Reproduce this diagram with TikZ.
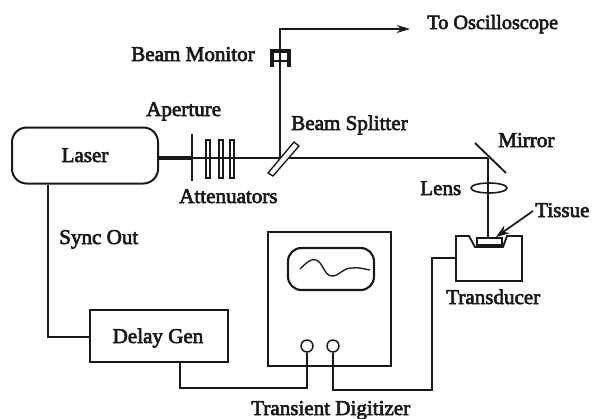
\documentclass[tikz,border=0pt]{standalone}
\usepackage{fontspec}
\setmainfont{Liberation Serif}[FakeBold=3]
\usetikzlibrary{arrows.meta}
\colorlet{ink}{black!90}
\tikzset{
 lbl/.style={font=\fontsize{15.8}{18}\selectfont, text=ink, inner sep=0pt, anchor=base west},
 boxl/.style={draw=ink, line width=1.5pt},
 wire/.style={draw=ink, line width=1.15pt},
}
\begin{document}
\begin{tikzpicture}[x=0.75pt,y=-0.75pt]
\useasboundingbox (0,0) rectangle (593,418);
% beam
\coordinate (laserout) at (159,158);
\coordinate (ap) at (192,158);
\coordinate (att) at (233,158);
\coordinate (bs) at (280,158);
\coordinate (mir) at (488,158);
\draw[ink,line width=3.6pt] (laserout)--(ap);
\draw[ink,line width=2.2pt] (ap)--(att);
\draw[ink,line width=1.6pt] (att)--(bs);
\draw[wire] (bs)--(mir);
\draw[wire] (mir)--(488,237);
% laser
\node[boxl,rounded corners=11pt,minimum width=109.5pt,minimum height=42pt,inner sep=0pt,fill=white] (laser) at (85,155.5) {};
\node[lbl,anchor=base] at (85,162) {Laser};
% aperture
\draw[ink,line width=1.9pt] (192,134)--(192,181);
% attenuators
\foreach \x in {206,219,230}{\draw[ink,line width=1pt,fill=white] (\x,140) rectangle (\x+4,178);}
\draw[ink,line width=2.2pt] (206,158)--(234,158);
% splitter
\draw[ink,line width=1pt,fill=white] (268,173)--(273,176)--(299,146)--(294,142)--cycle;
% monitor
\coordinate (scope) at (410,29);
\draw[wire,-{Stealth[length=10pt,width=6pt]}] (bs)--(280,29)--(scope);
\draw[ink,line width=3pt] (272,67)--(272,51)--(289,51)--(289,67);
\draw[ink,line width=1pt] (272,61)--(289,61);
% mirror, lens
\draw[ink,line width=1.4pt] (475,143)--(506,173);
\draw[ink,line width=1.2pt] (489,188) ellipse [x radius=18,y radius=5];
% transducer
\draw[ink,line width=1.4pt] (456,236)--(469,236)--(475,247)--(503,247)--(507,236)--(522,236)--(522,281)--(456,281)--cycle;
\draw[ink,line width=1pt] (477,238) rectangle (502,245);
\draw[ink,line width=2.2pt] (476,247)--(503,247);
\draw[ink,line width=1.3pt,-{Stealth[length=10pt,width=7pt]}] (533,211)--(496,237);
% delay
\node[boxl,minimum width=103.5pt,minimum height=38.5pt,inner sep=0pt] (delay) at (158.5,336) {};
\node[lbl,anchor=base] at (158,343) {Delay Gen};
% digitizer
\draw[ink,line width=1.9pt] (268,232) rectangle (391,366);
\draw[ink,line width=1.6pt,rounded corners=10pt] (288,248) rectangle (374,290);
\draw[ink,line width=1pt] (300,269) .. controls (307,262) and (312,258) .. (316,260) .. controls (323,262) and (324,276) .. (332,276) .. controls (340,276) and (342,268) .. (352,268) .. controls (358,267) and (364,269) .. (370,270);
\node[draw=ink,line width=1.1pt,circle,minimum size=9pt,inner sep=0pt] (p1) at (307,346) {};
\node[draw=ink,line width=1.1pt,circle,minimum size=9pt,inner sep=0pt] (p2) at (333,346) {};
% wires
\draw[wire] (laser.south -| 48,0)--(48,337)--(delay.west |- 0,337);
\draw[wire] (180,362)--(180,388)--(307,388)--(p1.south);
\draw[wire] (p2.south)--(333,390)--(432,390)--(432,258)--(456,258);
% labels
\node[lbl] at (131,61) {Beam Monitor};
\node[lbl,font=\fontsize{15.2}{18}\selectfont] at (427,29) {To Oscilloscope};
\node[lbl] at (146,116) {Aperture};
\node[lbl] at (291,130) {Beam Splitter};
\node[lbl] at (179,203) {Attenuators};
\node[lbl] at (498,147) {Mirror};
\node[lbl] at (420,195) {Lens};
\node[lbl] at (535,217) {Tissue};
\node[lbl] at (446,304) {Transducer};
\node[lbl] at (59,244) {Sync Out};
\node[lbl] at (251,415) {Transient Digitizer};
\end{tikzpicture}
\end{document}
